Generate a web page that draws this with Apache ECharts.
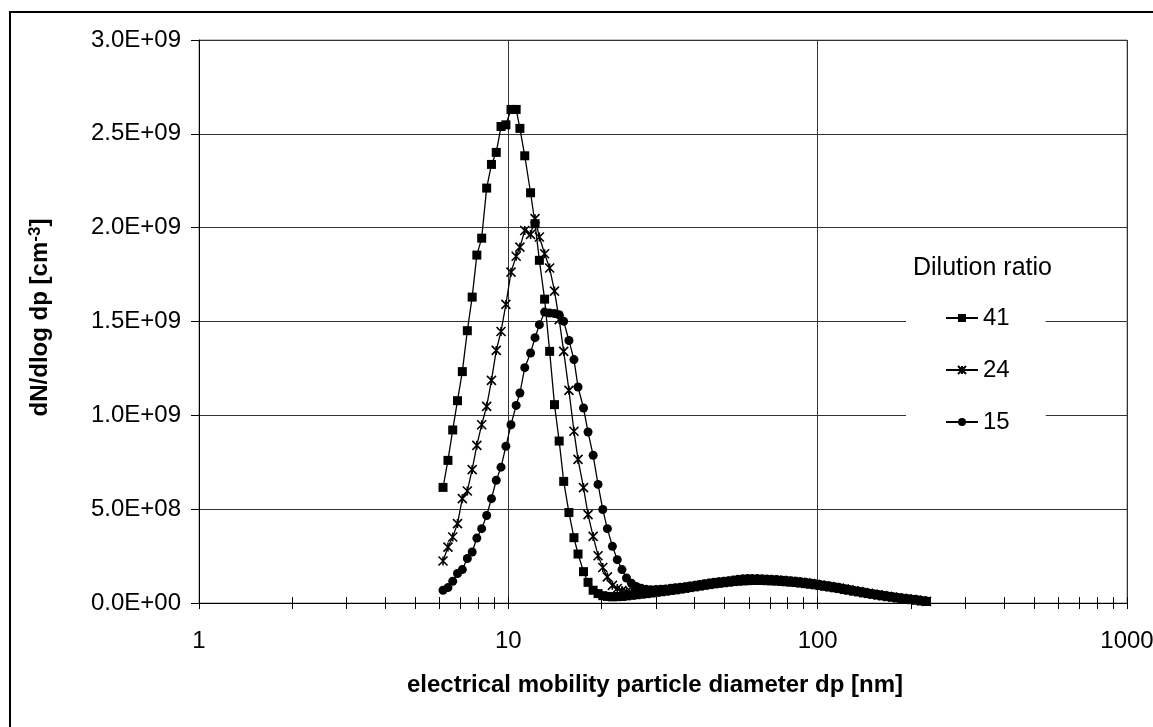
<!DOCTYPE html>
<html>
<head>
    <meta charset="UTF-8">
    <title>Dilution ratio size distributions</title>
    <script src="https://cdn.jsdelivr.net/npm/echarts@6/dist/echarts.min.js"></script>
    <style>
        html, body { margin: 0; padding: 0; background: #fff; }
        #chart { width: 1153px; height: 727px; }
    </style>
</head>
<body>
    <div id="chart"></div>

    <script>
        // SMPS channel midpoints [nm]
        const diameters = [
            6.15, 6.38, 6.61, 6.85, 7.10, 7.37, 7.64, 7.91, 8.20, 8.51,
            8.82, 9.14, 9.47, 9.82, 10.2, 10.6, 10.9, 11.3, 11.8, 12.2,
            12.6, 13.1, 13.6, 14.1, 14.6, 15.1, 15.7, 16.3, 16.8, 17.5,
            18.1, 18.8, 19.5, 20.2, 20.9, 21.7, 22.5, 23.3, 24.1, 25.0,
            25.9, 26.9, 27.9, 28.9, 30.0, 31.1, 32.2, 33.4, 34.6, 35.9,
            37.2, 38.5, 40.0, 41.4, 42.9, 44.5, 46.1, 47.8, 49.6, 51.4,
            53.3, 55.2, 57.3, 59.4, 61.5, 63.8, 66.1, 68.5, 71.0, 73.7,
            76.4, 79.1, 82.0, 85.1, 88.2, 91.4, 94.7, 98.2, 101.8, 105.5,
            109.4, 113.4, 117.6, 121.9, 126.3, 131.0, 135.8, 140.7, 145.9, 151.2,
            156.8, 162.5, 168.5, 174.7, 181.1, 187.7, 194.6, 201.7, 209.1, 216.7,
            224.7
        ];

        // dN/dlog dp [cm^-3], dilution ratio 41
        const ratio41 = [
            6.16e8, 7.60e8, 9.22e8, 1.078e9, 1.233e9, 1.451e9, 1.630e9, 1.854e9, 1.944e9, 2.211e9,
            2.337e9, 2.401e9, 2.539e9, 2.548e9, 2.630e9, 2.630e9, 2.529e9, 2.383e9, 2.186e9, 2.021e9,
            1.826e9, 1.619e9, 1.341e9, 1.057e9, 8.63e8, 6.48e8, 4.82e8, 3.48e8, 2.61e8, 1.67e8,
            1.10e8, 6.8e7, 5.0e7, 3.9e7, 3.5e7, 3.3e7, 3.4e7, 3.5e7, 3.8e7, 4.1e7,
            4.4e7, 4.7e7, 5.0e7, 5.3e7, 5.7e7, 6.0e7, 6.3e7, 6.7e7, 7.0e7, 7.4e7,
            7.8e7, 8.2e7, 8.6e7, 9.0e7, 9.4e7, 9.8e7, 1.02e8, 1.05e8, 1.08e8, 1.11e8,
            1.14e8, 1.16e8, 1.18e8, 1.19e8, 1.20e8, 1.20e8, 1.20e8, 1.19e8, 1.18e8, 1.17e8,
            1.15e8, 1.13e8, 1.11e8, 1.09e8, 1.06e8, 1.03e8, 1.00e8, 9.7e7, 9.3e7, 8.9e7,
            8.5e7, 8.1e7, 7.7e7, 7.2e7, 6.8e7, 6.3e7, 5.9e7, 5.4e7, 5.0e7, 4.6e7,
            4.2e7, 3.8e7, 3.4e7, 3.1e7, 2.7e7, 2.4e7, 2.1e7, 1.8e7, 1.5e7, 1.1e7,
            8e6
        ];

        // dilution ratio 24
        const ratio24 = [
            2.24e8, 2.98e8, 3.52e8, 4.23e8, 5.56e8, 5.97e8, 7.11e8, 8.40e8, 9.50e8, 1.048e9,
            1.186e9, 1.346e9, 1.447e9, 1.591e9, 1.763e9, 1.848e9, 1.896e9, 1.985e9, 1.964e9, 2.048e9,
            1.950e9, 1.861e9, 1.785e9, 1.662e9, 1.51e9, 1.341e9, 1.133e9, 9.15e8, 7.65e8, 6.15e8,
            4.71e8, 3.55e8, 2.52e8, 1.89e8, 1.39e8, 9.4e7, 7.7e7, 6.6e7, 6.0e7, 5.7e7,
            5.6e7, 5.7e7, 5.8e7, 6.0e7, 6.2e7, 6.5e7, 6.8e7, 7.1e7, 7.4e7, 7.8e7,
            8.1e7, 8.5e7, 8.9e7, 9.3e7, 9.7e7, 1.01e8, 1.05e8, 1.08e8, 1.11e8, 1.14e8,
            1.17e8, 1.20e8, 1.22e8, 1.23e8, 1.24e8, 1.24e8, 1.24e8, 1.23e8, 1.22e8, 1.21e8,
            1.19e8, 1.17e8, 1.15e8, 1.13e8, 1.10e8, 1.07e8, 1.04e8, 1.00e8, 9.6e7, 9.2e7,
            8.8e7, 8.4e7, 7.9e7, 7.5e7, 7.0e7, 6.5e7, 6.1e7, 5.6e7, 5.2e7, 4.7e7,
            4.3e7, 3.9e7, 3.5e7, 3.2e7, 2.8e7, 2.5e7, 2.2e7, 1.9e7, 1.6e7, 1.2e7,
            9e6
        ];

        // dilution ratio 15
        const ratio15 = [
            6.8e7, 8.2e7, 1.16e8, 1.57e8, 1.78e8, 2.37e8, 2.72e8, 3.46e8, 3.96e8, 4.66e8,
            5.56e8, 6.54e8, 7.24e8, 8.35e8, 9.50e8, 1.053e9, 1.119e9, 1.254e9, 1.332e9, 1.414e9,
            1.483e9, 1.550e9, 1.545e9, 1.542e9, 1.536e9, 1.501e9, 1.399e9, 1.297e9, 1.151e9, 1.039e9,
            9.11e8, 7.87e8, 6.32e8, 4.98e8, 3.96e8, 3.02e8, 2.31e8, 1.78e8, 1.33e8, 1.05e8,
            8.8e7, 7.8e7, 7.3e7, 7.1e7, 7.2e7, 7.3e7, 7.5e7, 7.8e7, 8.1e7, 8.4e7,
            8.7e7, 9.0e7, 9.4e7, 9.8e7, 1.02e8, 1.06e8, 1.10e8, 1.13e8, 1.16e8, 1.19e8,
            1.22e8, 1.26e8, 1.29e8, 1.30e8, 1.30e8, 1.30e8, 1.29e8, 1.28e8, 1.27e8, 1.25e8,
            1.23e8, 1.21e8, 1.19e8, 1.16e8, 1.13e8, 1.10e8, 1.07e8, 1.03e8, 9.9e7, 9.5e7,
            9.1e7, 8.6e7, 8.2e7, 7.7e7, 7.2e7, 6.7e7, 6.2e7, 5.8e7, 5.3e7, 4.9e7,
            4.5e7, 4.1e7, 3.7e7, 3.3e7, 2.9e7, 2.6e7, 2.3e7, 2.0e7, 1.7e7, 1.3e7,
            1.0e7
        ];

        const seriesNames = ['41', '24', '15'];
        // tick positions on the log axis (major + minor)
        const xTicks = [1, 2, 3, 4, 5, 6, 7, 8, 9, 10, 20, 30, 40, 50, 60, 70, 80, 90,
            100, 200, 300, 400, 500, 600, 700, 800, 900, 1000];

        const FONT = '"Liberation Sans", Arial, sans-serif';
        const starPath = 'path://M0,0L8,8M8,0L0,8M4,0L4,8';

        function sci(v) {
            if (v === 0) return '0.0E+00';
            const e = Math.floor(Math.log10(v) + 1e-9);
            const m = v / Math.pow(10, e);
            return m.toFixed(1) + 'E+' + String(e).padStart(2, '0');
        }

        function pairs(values) {
            return values.map((v, i) => [diameters[i], v]);
        }

        const chart = echarts.init(document.getElementById('chart'));

        const tickAxis = inside => ({
            type: 'value',
            gridIndex: 0,
            min: 0,
            max: 3,
            position: 'bottom',
            axisLine: { show: false },
            axisLabel: { show: false },
            splitLine: { show: false },
            axisTick: {
                show: true,
                inside: inside,
                length: 6,
                customValues: xTicks.map(t => Math.log10(t)),
                lineStyle: { color: '#000', width: 1 }
            }
        });

        const lineSeries = (name, values, symbol) => ({
            name: name,
            type: 'line',
            data: pairs(values),
            symbol: symbol,
            symbolSize: 9,
            showAllSymbol: true,
            lineStyle: { color: '#000', width: 1.3 },
            itemStyle: symbol === starPath
                ? { color: 'none', borderColor: '#000', borderWidth: 1.6 }
                : { color: '#000' },
            emphasis: { disabled: true },
            animation: false
        });

        chart.setOption({
            animation: false,
            graphic: [{
                type: 'rect',
                shape: { x: 10, y: 12, width: 1300, height: 900 },
                style: { fill: 'none', stroke: '#000', lineWidth: 2 },
                silent: true
            }],
            title: {
                text: 'Dilution ratio',
                left: 913,
                top: 256,
                padding: 0,
                textStyle: { fontFamily: FONT, fontSize: 25, fontWeight: 'normal', color: '#000' },
                z: 10
            },
            legend: {
                data: seriesNames,
                orient: 'vertical',
                left: 906,
                top: 236,
                padding: [70, 36, 15, 39],
                backgroundColor: '#fff',
                itemGap: 28,
                itemWidth: 32,
                itemHeight: 10,
                textStyle: { fontFamily: FONT, fontSize: 24, color: '#000' },
                selectedMode: false
            },
            grid: {
                left: 199,
                top: 40,
                width: 928,
                height: 563,
                containLabel: false,
                outerBoundsMode: 'none',
                show: true,
                borderColor: '#888',
                borderWidth: 1
            },
            xAxis: [{
                type: 'log',
                logBase: 10,
                min: 1,
                max: 1000,
                name: 'electrical mobility particle diameter dp [nm]',
                nameLocation: 'middle',
                nameGap: 70,
                nameTextStyle: { fontFamily: FONT, fontSize: 24, fontWeight: 'bold', color: '#000', padding: [0, 16, 0, 0] },
                axisLine: { show: true, lineStyle: { color: '#000', width: 1 } },
                axisTick: { show: false },
                axisLabel: {
                    fontFamily: FONT, fontSize: 24, color: '#000', margin: 26,
                    formatter: v => String(v)
                },
                splitLine: { show: true, lineStyle: { color: '#333', width: 1 } }
            }, tickAxis(false), tickAxis(true)],
            yAxis: {
                type: 'value',
                min: 0,
                max: 3e9,
                interval: 5e8,
                name: 'dN/dlog dp [cm{sup|-3}]',
                nameLocation: 'middle',
                nameGap: 145,
                nameRotate: 90,
                nameTextStyle: {
                    fontFamily: FONT, fontSize: 24, fontWeight: 'bold', color: '#000',
                    padding: [0, 0, 0, 8],
                    rich: {
                        sup: { fontFamily: FONT, fontSize: 17, fontWeight: 'bold', color: '#000', verticalAlign: 'top', padding: [0, 0, 10, 0] }
                    }
                },
                axisLine: { show: true, lineStyle: { color: '#000', width: 1 } },
                axisTick: { show: true, length: 8, lineStyle: { color: '#000' } },
                axisLabel: { fontFamily: FONT, fontSize: 24, color: '#000', margin: 18, formatter: sci },
                splitLine: { show: true, lineStyle: { color: '#333', width: 1 } }
            },
            series: [
                lineSeries(seriesNames[0], ratio41, 'rect'),
                lineSeries(seriesNames[1], ratio24, starPath),
                lineSeries(seriesNames[2], ratio15, 'circle')
            ]
        });
    </script>
</body>
</html>
